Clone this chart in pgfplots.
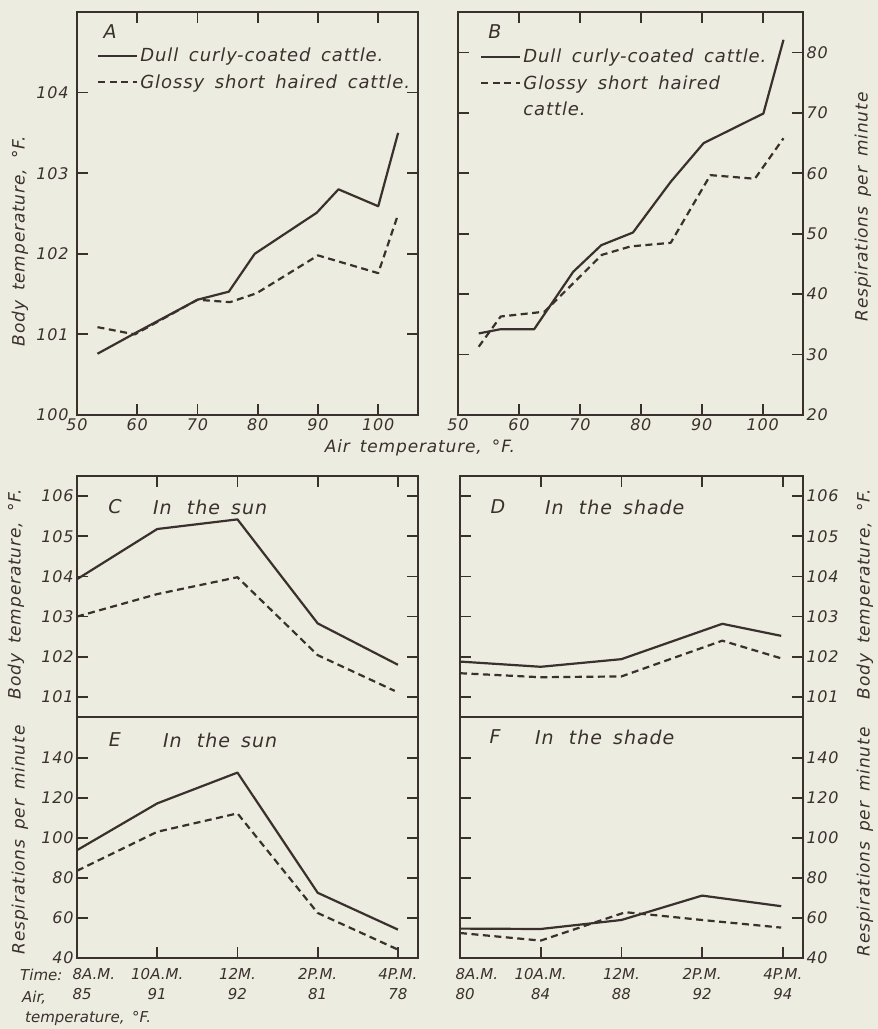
\documentclass[border=0pt]{standalone}
\usepackage{pgfplots}
\pgfplotsset{compat=1.18}
\usepackage{fontspec}
\setmainfont{DejaVu Sans}[LetterSpace=5, WordSpace=1.6]
\definecolor{ink}{RGB}{58,48,46}
\definecolor{paper}{RGB}{237,236,225}
\pgfplotsset{
  panel/.style={
    scale only axis,
    axis line style={draw=ink, line width=2.2pt},
    tick align=inside,
    major tick length=11pt,
    every tick/.style={draw=ink, line width=1.8pt},
    tick label style={font=\fontsize{16}{18}\selectfont\itshape, text=ink},
    /pgf/number format/assume math mode=true,
    clip=false,
    legend cell align=left,
    legend image code/.code={\draw[##1] (0pt,0pt) -- (39pt,0pt);},
  },
  solidc/.style={draw=ink, line width=2.2pt, line join=round, mark=none},
  dashc/.style={draw=ink, line width=2.2pt, line join=round, dash pattern=on 7pt off 4.5pt, mark=none},
}
\newcommand{\lab}{\fontsize{17}{19}\selectfont\itshape}
\newcommand{\ttl}{\fontsize{19}{21}\selectfont\itshape}
\newcommand{\leg}{\fontsize{18}{20}\selectfont\itshape}
\newcommand{\tkl}{\fontsize{15}{20}\selectfont\itshape\addfontfeatures{LetterSpace=0}}
\begin{document}
\begin{tikzpicture}
\fill[paper] (0pt,0pt) rectangle (878pt,1029pt);

% ---------------- A ----------------
\begin{axis}[panel, at={(77pt,614pt)}, anchor=south west, width=341pt, height=403pt,
  xmin=50, xmax=106.6, ymin=100, ymax=105,
  xtick={50,60,...,100}, ytick={100,101,...,104},
  yticklabel style={xshift=-5pt},
  legend style={draw=none, fill=none, at={(axis description cs:0,1)}, anchor=north west,
    xshift=20pt, yshift=-34pt, font=\leg, text=ink, row sep=7pt, inner sep=0pt,
    nodes={inner sep=2pt}},
]
\addplot[solidc] coordinates {(53.4,100.76) (60,101.03) (70,101.43) (75.2,101.53) (79.5,102.0) (89.8,102.51) (93.4,102.8) (100,102.59) (103.3,103.5)};
\addlegendentry{Dull curly-coated cattle.}
\addplot[dashc] coordinates {(53.4,101.09) (59.6,101.0) (70,101.43) (75.4,101.4) (79.8,101.51) (90,101.98) (100,101.76) (103.3,102.49)};
\addlegendentry{Glossy short haired cattle.}
\end{axis}

% ---------------- B ----------------
\begin{axis}[panel, at={(458pt,614pt)}, anchor=south west, width=345pt, height=403pt,
  xmin=50, xmax=106.6, ymin=20, ymax=86.7,
  xtick={50,60,...,100}, ytick={20,30,...,80}, yticklabel pos=right,
  legend style={draw=none, fill=none, at={(axis description cs:0,1)}, anchor=north west,
    xshift=22pt, yshift=-35pt, font=\leg, text=ink, row sep=7pt, inner sep=0pt,
    nodes={inner sep=2pt}},
]
\addplot[solidc] coordinates {(53.4,33.5) (57,34.2) (62.5,34.2) (68.9,43.7) (73.5,48.1) (78.7,50.2) (84.9,58.6) (90.3,65.0) (100.1,69.9) (103.4,82.1)};
\addlegendentry{Dull curly-coated cattle.}
\addplot[dashc] coordinates {(53.4,31.3) (57,36.3) (64.2,37.1) (68.3,41.2) (73.6,46.5) (78.3,47.9) (84.9,48.5) (91.4,59.7) (98.7,59.1) (103.4,65.8)};
\addlegendentry{Glossy short haired}
\addlegendimage{empty legend}
\addlegendentry{cattle.}
\end{axis}

% ---------------- C ----------------
\begin{axis}[panel, at={(77pt,312pt)}, anchor=south west, width=341pt, height=241pt,
  xmin=0, xmax=4.25, ymin=100.5, ymax=106.5,
  xtick={0,...,4}, xtick pos=right, xticklabels={},
  ytick={101,102,...,106},
]
\addplot[solidc] coordinates {(0,103.93) (1,105.18) (2,105.42) (3,102.83) (4,101.8)};
\addplot[dashc] coordinates {(0,103.0) (1,103.56) (2,103.98) (3,102.04) (3.96,101.15)};
\end{axis}

% ---------------- E ----------------
\begin{axis}[panel, at={(77pt,71pt)}, anchor=south west, width=341pt, height=241pt,
  xmin=0, xmax=4.25, ymin=40, ymax=160.5,
  xtick={1,2,3,4}, xtick pos=left,
  xticklabels={{10A.M.\\91},{12M.\\92},{2P.M.\\81},{4P.M.\\78}},
  xticklabel style={align=center, font=\tkl, yshift=-7pt},
  extra x ticks={0}, extra x tick labels={{8A.M.\\85}},
  extra x tick style={xticklabel style={align=left, anchor=north west, xshift=-8pt}},
  ytick={40,60,...,140},
]
\addplot[solidc] coordinates {(0,93.9) (1,117.3) (2,132.7) (3,72.6) (4,54.2)};
\addplot[dashc] coordinates {(0,83.6) (1,103.1) (2,112.3) (3,62.5) (4,44.2)};
\end{axis}

% ---------------- D ----------------
\begin{axis}[panel, at={(460pt,312pt)}, anchor=south west, width=343pt, height=241pt,
  xmin=0, xmax=4.25, ymin=100.5, ymax=106.5,
  xtick={0,...,4}, xtick pos=right, xticklabels={},
  ytick={101,102,...,106}, yticklabel pos=right,
]
\addplot[solidc] coordinates {(0,101.88) (1,101.75) (2,101.94) (3.25,102.82) (3.98,102.52)};
\addplot[dashc] coordinates {(0,101.59) (1,101.49) (2,101.51) (3.25,102.4) (3.98,101.96)};
\end{axis}

% ---------------- F ----------------
\begin{axis}[panel, at={(460pt,71pt)}, anchor=south west, width=343pt, height=241pt,
  xmin=0, xmax=4.25, ymin=40, ymax=160.5,
  xtick={1,2,3,4}, xtick pos=left,
  xticklabels={{10A.M.\\84},{12M.\\88},{2P.M.\\92},{4P.M.\\94}},
  xticklabel style={align=center, font=\tkl, yshift=-7pt},
  extra x ticks={0}, extra x tick labels={{8A.M.\\80}},
  extra x tick style={xticklabel style={align=left, anchor=north west, xshift=-8pt}},
  ytick={40,60,...,140}, yticklabel pos=right,
]
\addplot[solidc] coordinates {(0,54.7) (1,54.5) (2,59.0) (3,71.2) (3.98,65.9)};
\addplot[dashc] coordinates {(0,52.5) (1,48.7) (2.05,62.9) (2.47,61.2) (3,59.0) (3.98,55.2)};
\end{axis}

% ---------------- texts ----------------
\begin{scope}[every node/.style={text=ink, inner sep=0pt}]
\node[font=\ttl] at (110pt,997pt) {A};
\node[font=\ttl] at (495pt,997pt) {B};
\node[font=\ttl] at (115pt,522pt) {C};
\node[font=\ttl, anchor=west] at (153pt,522pt) {In\hspace{4pt} the sun};
\node[font=\ttl] at (498pt,522pt) {D};
\node[font=\ttl, anchor=west] at (545pt,522pt) {In\hspace{4pt} the shade};
\node[font=\ttl] at (115pt,289pt) {E};
\node[font=\ttl, anchor=west] at (163pt,289pt) {In\hspace{4pt} the sun};
\node[font=\ttl] at (495pt,292pt) {F};
\node[font=\ttl, anchor=west] at (535pt,292pt) {In\hspace{4pt} the shade};

\node[font=\lab, rotate=90] at (20pt,788pt) {Body temperature, °F.};
\node[font=\lab, rotate=90] at (863pt,822pt) {Respirations per minute};
\node[font=\lab, rotate=90] at (16pt,435pt) {Body temperature, °F.};
\node[font=\lab, rotate=90] at (865pt,435pt) {Body temperature, °F.};
\node[font=\lab, rotate=90] at (20pt,189pt) {Respirations per minute};
\node[font=\lab, rotate=90] at (865pt,187pt) {Respirations per minute};
\node[font=\lab] at (420pt,581pt) {Air temperature, °F.};

\node[font=\tkl, anchor=west] at (20pt,54pt) {Time:};
\node[font=\tkl, anchor=west] at (22pt,31pt) {Air,};
\node[font=\tkl, anchor=west] at (25pt,11pt) {temperature, °F.};
\end{scope}

\pgfresetboundingbox
\useasboundingbox (0pt,0pt) rectangle (878pt,1029pt);
\end{tikzpicture}
\end{document}
